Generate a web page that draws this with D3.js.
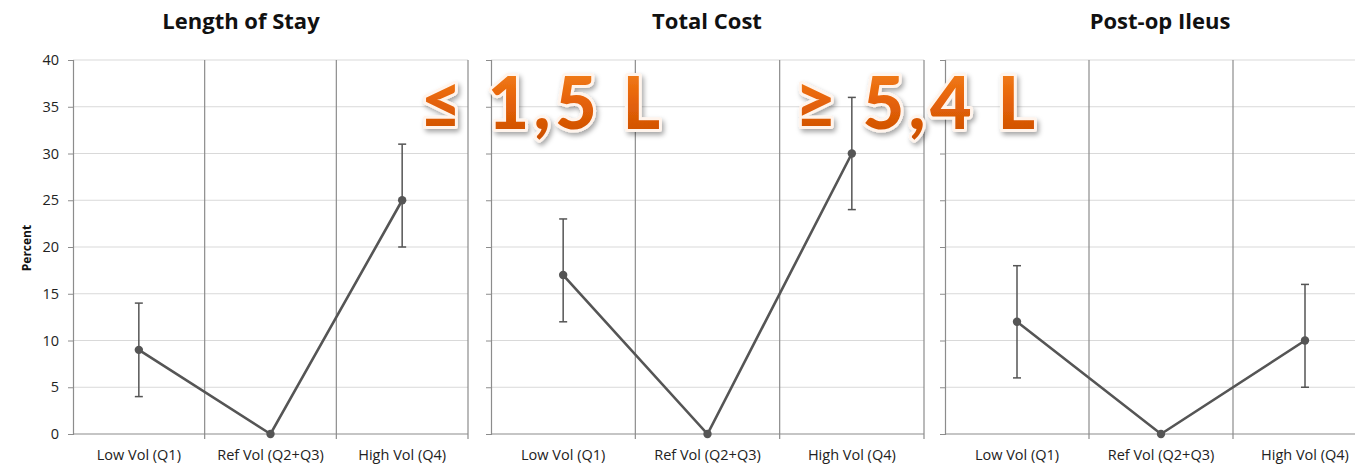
<!DOCTYPE html>
<html>
<head>
<meta charset="utf-8">
<script src="https://cdn.jsdelivr.net/npm/d3@7"></script>
<style>
  html, body { margin: 0; padding: 0; background: #fff; }
  svg { display: block; }
</style>
</head>
<body>
<svg id="chart" width="1355" height="467"></svg>
<script>
// Categories shared by the three panels
const categories = ["Low Vol (Q1)", "Ref Vol (Q2+Q3)", "High Vol (Q4)"];
const panelTitles = ["Length of Stay", "Total Cost", "Post-op Ileus"];
const yTicks = [0, 5, 10, 15, 20, 25, 30, 35, 40];

// Percent change vs. reference volume, with confidence limits
const stayValues = [9, 0, 25];
const stayLower  = [4, null, 20];
const stayUpper  = [14, null, 31];

const costValues = [17, 0, 30];
const costLower  = [12, null, 24];
const costUpper  = [23, null, 36];

const ileusValues = [12, 0, 10];
const ileusLower  = [6, null, 5];
const ileusUpper  = [18, null, 16];

const overlayLabels = ["≤ 1,5 L", "≥ 5,4 L"];

const series = [
  { title: panelTitles[0], values: stayValues, lower: stayLower, upper: stayUpper },
  { title: panelTitles[1], values: costValues, lower: costLower, upper: costUpper },
  { title: panelTitles[2], values: ileusValues, lower: ileusLower, upper: ileusUpper }
];

const svg = d3.select("#chart");
const font = "'Open Sans', Lato, sans-serif";

// Horizontal extents of each panel's plot area
const panelX = [[73, 468], [491, 924], [945, 1377]];
const titleX = [241, 707, 1160];
const plotTop = 60, plotBottom = 434;

const y = d3.scaleLinear().domain([0, 40]).range([plotBottom, plotTop]);

const defs = svg.append("defs");
const grad = defs.append("linearGradient").attr("id", "orangeGrad")
  .attr("x1", 0).attr("y1", 0).attr("x2", 0).attr("y2", 1);
grad.append("stop").attr("offset", "0%").attr("stop-color", "#f58a22");
grad.append("stop").attr("offset", "45%").attr("stop-color", "#e8650a");
grad.append("stop").attr("offset", "100%").attr("stop-color", "#c94d00");
const shadow = defs.append("filter").attr("id", "shadow")
  .attr("x", "-10%").attr("y", "-20%").attr("width", "130%").attr("height", "150%");
shadow.append("feDropShadow").attr("dx", 2).attr("dy", 3).attr("stdDeviation", 2.5)
  .attr("flood-color", "#000").attr("flood-opacity", 0.35);

series.forEach((s, i) => {
  const [x0, x1] = panelX[i];
  const x = d3.scaleBand().domain(categories).range([x0, x1]).padding(0);
  const g = svg.append("g");

  // horizontal gridlines
  g.selectAll(".grid").data(yTicks.filter(t => t > 0)).join("line")
    .attr("x1", x0).attr("x2", x1)
    .attr("y1", d => y(d)).attr("y2", d => y(d))
    .attr("stroke", "#d9d9d9").attr("stroke-width", 1.2);

  // vertical category dividers and panel right edge
  const dividers = categories.slice(1).map(c => x(c)).concat([x1]);
  g.selectAll(".div").data(dividers).join("line")
    .attr("x1", d => d).attr("x2", d => d)
    .attr("y1", plotTop).attr("y2", plotBottom + 5)
    .attr("stroke", "#8c8c8c").attr("stroke-width", 1.2);

  // y axis
  const yAxis = d3.axisLeft(y).tickValues(yTicks).tickSize(5)
    .tickFormat(i === 0 ? d3.format("d") : () => "");
  const ya = g.append("g").attr("transform", `translate(${x0},0)`).call(yAxis);
  ya.select(".domain").attr("stroke", "#8c8c8c").attr("stroke-width", 1.2);
  ya.selectAll(".tick line").attr("stroke", "#8c8c8c");
  ya.selectAll(".tick text").attr("font-family", font).attr("font-size", 14.5)
    .attr("fill", "#222").attr("x", -14);

  // x axis baseline
  g.append("line").attr("x1", x0).attr("x2", x1)
    .attr("y1", plotBottom).attr("y2", plotBottom)
    .attr("stroke", "#8c8c8c").attr("stroke-width", 1.2);

  // category labels
  g.selectAll(".cat").data(categories).join("text")
    .attr("x", d => x(d) + x.bandwidth() / 2).attr("y", 460)
    .attr("text-anchor", "middle")
    .attr("font-family", font).attr("font-size", 14.5).attr("fill", "#222")
    .text(d => d);

  // panel title
  g.append("text")
    .attr("x", titleX[i]).attr("y", 29)
    .attr("text-anchor", "middle")
    .attr("font-family", font).attr("font-size", 22).attr("font-weight", "bold")
    .attr("fill", "#111")
    .text(s.title);

  const pts = categories.map((c, k) => ({
    cx: x(c) + x.bandwidth() / 2, v: s.values[k], lo: s.lower[k], hi: s.upper[k]
  }));

  // error bars
  const eb = pts.filter(p => p.lo !== null);
  g.selectAll(".eb").data(eb).join("line")
    .attr("x1", p => p.cx).attr("x2", p => p.cx)
    .attr("y1", p => y(p.lo)).attr("y2", p => y(p.hi))
    .attr("stroke", "#555").attr("stroke-width", 1.5);
  ["lo", "hi"].forEach(key => {
    g.selectAll(".cap-" + key).data(eb).join("line")
      .attr("x1", p => p.cx - 4).attr("x2", p => p.cx + 4)
      .attr("y1", p => y(p[key])).attr("y2", p => y(p[key]))
      .attr("stroke", "#555").attr("stroke-width", 1.5);
  });

  // trend line
  const line = d3.line().x(p => p.cx).y(p => y(p.v));
  g.append("path").datum(pts).attr("d", line)
    .attr("fill", "none").attr("stroke", "#555").attr("stroke-width", 2.6);

  g.selectAll(".pt").data(pts).join("circle")
    .attr("cx", p => p.cx).attr("cy", p => y(p.v)).attr("r", 4.2)
    .attr("fill", "#555");
});

// y axis label
svg.append("text")
  .attr("transform", "translate(31,248) rotate(-90)")
  .attr("text-anchor", "middle")
  .attr("font-family", font).attr("font-size", 12).attr("font-weight", "bold")
  .attr("fill", "#111")
  .text("Percent");

// volume threshold labels
const overlayX = [420, 795];
overlayLabels.forEach((t, i) => {
  svg.append("text")
    .attr("x", overlayX[i]).attr("y", 129)
    .attr("font-family", "Lato, sans-serif").attr("font-size", 72).attr("font-weight", 900)
    .attr("fill", "url(#orangeGrad)")
    .attr("stroke", "#fff4ec").attr("stroke-width", 6).attr("stroke-linejoin", "round")
    .attr("paint-order", "stroke")
    .attr("filter", "url(#shadow)")
    .attr("textLength", 240).attr("lengthAdjust", "spacing")
    .text(t);
});
</script>
</body>
</html>
